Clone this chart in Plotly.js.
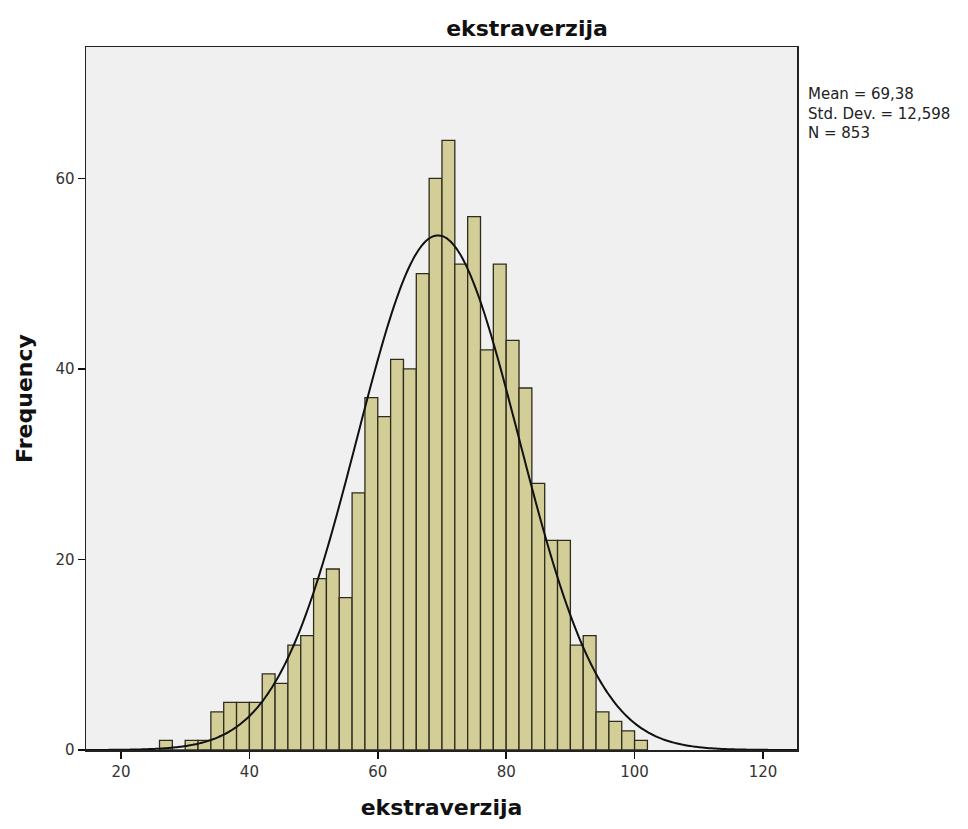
<!DOCTYPE html>
<html>
<head>
<meta charset="utf-8">
<script src="https://cdn.plot.ly/plotly-3.0.1.min.js"></script>
<style>
  html, body { margin: 0; padding: 0; background: #ffffff; }
  #chart { width: 968px; height: 829px; }
</style>
</head>
<body>
<div id="chart"></div>
<script>
// Histogram bins (left edge of each 2-unit bin) and frequencies
var binStarts = [26, 28, 30, 32, 34, 36, 38, 40, 42, 44, 46, 48, 50, 52, 54, 56, 58, 60, 62, 64,
                 66, 68, 70, 72, 74, 76, 78, 80, 82, 84, 86, 88, 90, 92, 94, 96, 98, 100];
var counts    = [1, 0, 1, 1, 4, 5, 5, 5, 8, 7, 11, 12, 18, 19, 16, 27, 37, 35, 41, 40,
                 50, 60, 64, 51, 56, 42, 51, 43, 38, 28, 22, 22, 11, 12, 4, 3, 2, 1];
var binWidth = 2;

// Summary statistics shown on the chart
var statMean = 69.38;
var statSD = 12.598;
var statN = 853;
var statLabels = ["Mean = 69,38", "Std. Dev. = 12,598", "N = 853"];

var xTicks = [20, 40, 60, 80, 100, 120];
var yTicks = [0, 20, 40, 60];
var titleText = "ekstraverzija";
var xTitle = "ekstraverzija";
var yTitle = "Frequency";

var barX = binStarts.map(function (b) { return b + binWidth / 2; });

// Fitted normal curve defined by the chart's mean, std. dev., N and bin width
var curveX = [], curveY = [];
var xLo = 14.5, xHi = 125.3, steps = 300;
for (var i = 0; i <= steps; i++) {
  var xv = xLo + (xHi - xLo) * i / steps;
  var z = (xv - statMean) / statSD;
  curveX.push(xv);
  curveY.push(statN * binWidth / (statSD * Math.sqrt(2 * Math.PI)) * Math.exp(-0.5 * z * z));
}

var traces = [
  {
    type: 'bar',
    x: barX,
    y: counts,
    width: binWidth,
    marker: { color: '#D3CE97', line: { color: '#2e2c1c', width: 1.3 } },
    hoverinfo: 'x+y',
    showlegend: false
  },
  {
    type: 'scatter',
    mode: 'lines',
    x: curveX,
    y: curveY,
    line: { color: '#111111', width: 2, shape: 'spline' },
    hoverinfo: 'skip',
    showlegend: false
  }
];

var fontFam = 'DejaVu Sans, Arial, sans-serif';

var layout = {
  width: 968,
  height: 829,
  margin: { l: 86, r: 171, t: 47, b: 79, pad: 0 },
  paper_bgcolor: '#ffffff',
  plot_bgcolor: '#F0F0F0',
  bargap: 0,
  title: {
    text: '<b>' + titleText + '</b>',
    x: (527 - 86) / 711, xref: 'paper', xanchor: 'center',
    y: 1 - 28 / 829, yanchor: 'middle',
    font: { family: fontFam, size: 22, color: '#111' }
  },
  xaxis: {
    range: [14.55, 125.3],
    tickvals: xTicks,
    ticktext: xTicks.map(String),
    ticks: 'outside', ticklen: 7, tickwidth: 1.5, tickcolor: '#111',
    showgrid: false, zeroline: false,
    showline: true, linecolor: '#222', linewidth: 1.5, mirror: true,
    tickfont: { family: fontFam, size: 15, color: '#333' },
    title: {
      text: '<b>' + xTitle + '</b>', standoff: 20,
      font: { family: fontFam, size: 22, color: '#111' }
    }
  },
  yaxis: {
    range: [0, 73.8],
    tickvals: yTicks,
    ticktext: yTicks.map(String),
    ticks: 'outside', ticklen: 7, tickwidth: 1.5, tickcolor: '#111',
    showgrid: false, zeroline: false,
    showline: true, linecolor: '#222', linewidth: 1.5, mirror: true,
    tickfont: { family: fontFam, size: 15, color: '#333' },
    title: {
      text: '<b>' + yTitle + '</b>', standoff: 16,
      font: { family: fontFam, size: 22, color: '#111' }
    }
  },
  annotations: [{
    xref: 'paper', yref: 'paper',
    x: (806 - 86) / 711, y: 1 - (83 - 47) / 703,
    xanchor: 'left', yanchor: 'top', align: 'left',
    text: statLabels.join('<br>'), showarrow: false,
    font: { family: fontFam, size: 15, color: '#222' }
  }]
};

Plotly.newPlot('chart', traces, layout, { displayModeBar: false, staticPlot: true });
</script>
</body>
</html>
